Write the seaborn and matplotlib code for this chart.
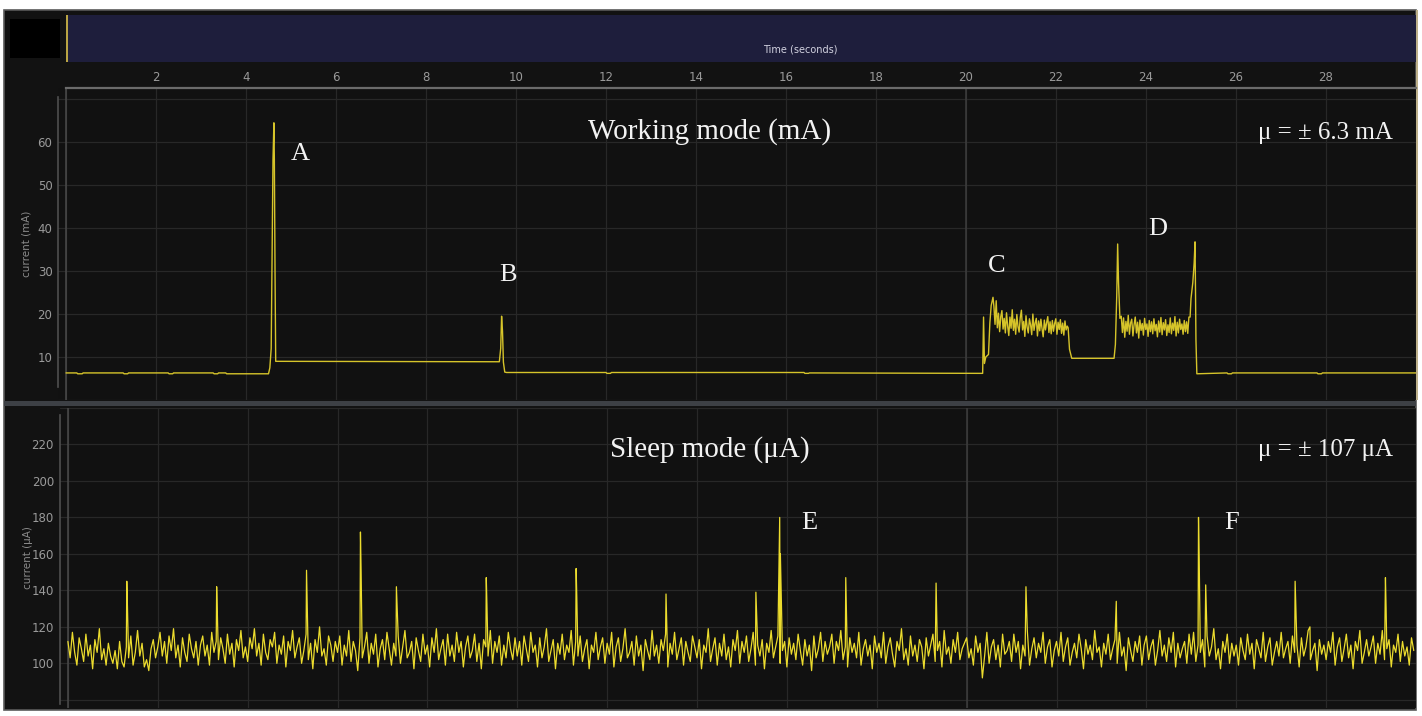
import numpy as np
import pandas as pd
import matplotlib
matplotlib.use("Agg")
import matplotlib.pyplot as plt
from matplotlib.patches import Rectangle
import seaborn as sns

# ---- working mode trace (mA): breakpoints + two noisy plateaus ----
pre_t  = [0.00, 0.24, 0.26, 0.36, 0.38, 1.27, 1.29, 1.37, 1.39, 2.27, 2.29, 2.37, 2.39,
          3.27, 3.29, 3.37, 3.39, 3.55, 3.57, 4.50, 4.53, 4.56, 4.58, 4.60, 4.62, 4.63,
          4.645, 4.66, 9.63, 9.66, 9.68, 9.70, 9.72, 9.75, 9.79, 12.00, 12.02, 12.10,
          12.12, 16.40, 16.42, 16.50, 16.52, 20.37, 20.39, 20.41, 20.44, 20.50, 20.53,
          20.56, 20.60]
pre_ma = [6.3, 6.3, 6.1, 6.1, 6.3, 6.3, 6.1, 6.1, 6.3, 6.3, 6.1, 6.1, 6.3,
          6.3, 6.1, 6.1, 6.3, 6.3, 6.1, 6.1, 7.5, 12.0, 35.0, 56.0, 64.5, 56.0,
          30.0, 9.0, 8.9, 12.0, 19.5, 16.0, 8.8, 6.5, 6.4, 6.4, 6.2, 6.2,
          6.4, 6.4, 6.2, 6.2, 6.3, 6.2, 19.3, 8.5, 10.0, 10.6, 17.9,
          22.0, 23.9]

c_start, c_end = 20.62, 22.25
c_noise = [21.8, 17.6, 23.1, 16.8, 20.2, 15.9, 19.4, 20.8, 16.5, 19.0, 15.6, 20.3, 17.2,
           15.0, 19.3, 16.7, 21.0, 16.2, 18.8, 15.3, 19.9, 17.1, 15.8, 19.2, 20.9, 16.3,
           18.3, 14.8, 19.6, 16.9, 15.6, 18.9, 17.5, 15.2, 20.0, 16.2, 17.9, 19.0, 14.9,
           18.4, 16.1, 18.8, 16.6, 14.7, 18.6, 16.3, 18.0, 19.4, 15.7, 18.2, 15.4, 18.5,
           16.0, 17.8, 18.9, 15.3, 18.1, 16.4, 18.7, 15.5, 17.9, 15.1, 18.4, 16.3, 17.2]

mid_t  = [22.27, 22.30, 22.35, 23.29, 23.32, 23.35, 23.37, 23.39, 23.42]
mid_ma = [16.8, 11.8, 9.7, 9.7, 12.9, 24.3, 36.3, 27.3, 19.0]

d_start, d_end = 23.45, 24.98
d_noise = [19.5, 15.7, 19.1, 14.6, 18.3, 16.0, 19.7, 15.3, 17.9, 18.8, 14.9, 17.5, 19.3,
           15.6, 18.1, 14.4, 18.6, 16.2, 17.8, 15.1, 19.0, 16.4, 17.7, 14.8, 18.5, 15.9,
           18.2, 15.4, 18.9, 16.1, 17.6, 14.7, 18.4, 15.8, 19.2, 15.2, 18.0, 16.3, 18.7,
           15.0, 17.5, 15.7, 19.1, 15.4, 17.9, 16.2, 19.4, 14.9, 18.1, 15.6, 18.8, 16.4,
           17.7, 15.3, 18.5, 15.9, 18.2, 15.5, 19.3, 19.3]

post_t  = [25.00, 25.04, 25.07, 25.09, 25.11, 25.13, 25.80, 25.82, 25.90, 25.92, 27.80,
           27.82, 27.90, 27.92, 30.00]
post_ma = [23.6, 27.3, 31.9, 36.8, 14.0, 6.1, 6.3, 6.1, 6.1, 6.3, 6.3,
           6.1, 6.1, 6.3, 6.3]

peak_letters = ["A", "B", "C", "D"]
peak_t = [5.2, 9.82, 20.69, 24.27]
peak_ma = [57.3, 29.1, 31.1, 39.8]

# ---- sleep mode trace (uA): samples every 0.05 s + spikes ----
sleep_dt = 0.05
sleep_noise = [
    112,103,117,106,99,114,108,101,116,104,110,97,113,106,119,102,108,99,111,104,
    100,107,97,112,101,98,109,103,115,99,106,118,104,111,98,102,96,108,113,103,
    109,117,104,112,100,115,107,119,103,110,98,114,106,101,116,108,103,112,99,110,
    115,104,110,99,117,106,112,102,114,108,100,116,105,111,98,113,107,118,103,109,
    101,114,108,119,104,111,99,116,106,102,113,109,117,100,110,105,115,98,112,107,
    118,103,109,114,100,107,116,102,111,97,113,106,120,104,108,99,115,110,101,112,
    106,115,99,110,104,118,101,112,107,96,114,103,109,117,100,111,105,116,98,108,
    113,102,117,108,99,111,104,115,100,109,118,103,106,112,97,114,107,101,116,105,
    110,98,114,106,119,102,108,113,99,116,104,110,101,117,106,112,98,109,115,103,
    107,116,101,111,97,113,109,104,118,100,112,106,115,99,110,103,117,108,102,114,
    104,112,99,115,108,101,117,106,110,98,114,103,109,119,101,107,113,97,111,105,
    116,102,110,106,118,99,112,104,115,101,108,113,97,110,106,117,102,109,114,100,
    111,105,117,98,109,114,101,108,119,103,106,112,99,115,104,110,96,113,107,102,
    118,104,110,100,113,107,116,98,111,105,117,102,108,114,99,112,106,101,115,109,
    103,113,97,110,106,119,101,108,114,99,111,104,116,102,109,98,113,107,118,100,
    112,106,115,101,108,117,99,110,104,113,97,111,106,118,103,109,115,100,107,112,
    98,114,105,111,102,116,107,99,113,104,110,96,115,103,108,117,101,112,105,109,
    116,100,112,107,118,102,109,98,114,106,111,103,117,99,108,113,104,110,97,115,
    106,111,103,117,100,109,114,105,98,112,107,119,102,108,99,115,104,110,101,113,
    109,97,114,104,110,116,101,107,112,98,118,105,109,100,113,106,117,102,108,111,
    114,103,108,99,115,106,111,92,104,117,100,109,113,102,110,98,116,105,107,112,
    101,116,106,112,97,110,104,118,99,108,114,103,111,106,117,100,109,113,98,107,
    112,104,117,101,109,114,99,106,111,103,116,108,97,113,105,110,102,118,106,109,
    98,111,105,116,102,108,113,100,117,104,109,96,114,107,101,112,106,115,99,110,
    115,102,109,113,99,107,118,104,110,101,114,106,117,98,111,103,108,112,100,116,
    105,117,101,110,106,113,98,115,104,109,119,102,108,97,112,106,116,100,111,104,
    110,99,114,107,102,116,105,111,97,113,108,103,117,101,109,114,99,106,112,104,
    117,103,108,112,100,115,106,110,98,114,104,109,118,102,107,111,96,113,105,110,
    102,112,106,117,99,109,114,101,108,116,103,110,97,112,107,118,100,106,113,104,
    109,115,100,111,105,118,102,108,113,98,110,106,116,101,112,104,109,99,114,107,
]
spike_t  = [1.31, 1.325, 3.31, 3.325, 5.31, 5.325, 6.51, 6.525, 7.31, 9.31, 9.325,
            11.31, 11.325, 13.31, 15.31, 15.84, 15.855, 17.31, 19.32, 21.32, 23.33,
            25.16, 25.175, 25.32, 27.31, 27.64, 29.32, 29.335]
spike_ua = [145, 131, 142, 128, 151, 133, 172, 150, 142, 147, 132,
            152, 136, 138, 139, 180, 160, 147, 144, 142, 134,
            180, 158, 143, 145, 120, 147, 130]

sleep_letters = ["E", "F"]
sleep_letter_t = [16.5, 25.9]
sleep_letter_ua = [176.9, 176.9]

# ---- build tables ----
work_df = pd.DataFrame({
    "t": np.concatenate([pre_t, np.linspace(c_start, c_end, len(c_noise)), mid_t,
                         np.linspace(d_start, d_end, len(d_noise)), post_t]),
    "ma": np.concatenate([pre_ma, c_noise, mid_ma, d_noise, post_ma]),
})
sleep_df = pd.concat([
    pd.DataFrame({"t": np.arange(len(sleep_noise)) * sleep_dt, "ua": sleep_noise}),
    pd.DataFrame({"t": spike_t, "ua": spike_ua}),
]).sort_values("t")

# ---- style ----
sns.set_theme(style="dark", rc={
    "axes.facecolor": "#111111",
    "figure.facecolor": "white",
    "grid.color": "#282828",
    "grid.linewidth": 0.9,
    "xtick.color": "#9a9a9a",
    "ytick.color": "#9a9a9a",
})
plt.rcParams["font.family"] = ["DejaVu Sans"]
SERIF = ["Liberation Serif", "DejaVu Serif"]
W, H = 1422, 716

def box(x0, y0, x1, y1):
    return [x0 / W, 1 - y1 / H, (x1 - x0) / W, (y1 - y0) / H]

def frect(x0, y0, x1, y1, color, z, **kw):
    fig.patches.append(Rectangle((x0 / W, 1 - y1 / H), (x1 - x0) / W, (y1 - y0) / H,
                                 transform=fig.transFigure, facecolor=color, zorder=z, **kw))

fig = plt.figure(figsize=(W / 100, H / 100), dpi=100)

# dark frame, time bar and panel divider (kept below the axes)
frect(4, 10, 1416, 710, "#121212", -3, edgecolor="#5a5a5a", lw=1.2)
frect(66, 15, 1416, 62, "#1e1e3c", -2, edgecolor="none")
frect(10, 19, 60, 58, "black", -2, edgecolor="none")
frect(66, 15, 67.5, 62, "#b9a444", -1, edgecolor="none")
frect(4, 401, 1416, 406, "#3d4045", -1, edgecolor="none")
frect(1416, 10, 1418, 400, "#bdb08a", -1, edgecolor="none")
fig.text(800 / W, 1 - 49 / H, "Time (seconds)", ha="center", va="center",
         fontsize=7, color="#d2d2e0")

ax1 = fig.add_axes(box(58, 88, 1416, 400))
ax2 = fig.add_axes(box(59.5, 408, 1416, 708))

sns.lineplot(data=work_df, x="t", y="ma", ax=ax1, color="#d6c42a", lw=1.0,
             estimator=None, sort=False)
sns.lineplot(data=sleep_df, x="t", y="ua", ax=ax2, color="#ecdc2e", lw=0.9,
             estimator=None, sort=False)

xt = np.arange(0, 31, 2)
ax1.set_xlim(-8 / 45, 1350 / 45)
ax1.set_ylim(1.5, 72.6)
ax1.set_xticks(xt)
ax1.set_xticklabels([str(v) if 0 < v < 30 else "" for v in xt])
ax1.xaxis.tick_top()
ax1.set_yticks(np.arange(0, 71, 10))
ax1.set_yticklabels([str(v) if 0 < v < 70 else "" for v in range(0, 71, 10)])

ax2.set_xlim(-8.5 / 45.4, 1348 / 45.4)
ax2.set_ylim(75.5, 239.9)
ax2.set_xticks(xt)
ax2.set_xticklabels([])
ax2.set_yticks(np.arange(80, 241, 20))
ax2.set_yticklabels([str(v) if 100 <= v <= 220 else "" for v in range(80, 241, 20)])

for ax, lab in [(ax1, "current (mA)"), (ax2, "current (\u00b5A)")]:
    ax.grid(True)
    ax.tick_params(axis="both", length=0, labelsize=8.5, pad=4)
    ax.set_xlabel("")
    ax.set_ylabel(lab, fontsize=7.5, color="#8a8a8a")
    ax.yaxis.set_label_coords(-0.0195, 0.5)
    for s in ax.spines.values():
        s.set_visible(False)
    ax.spines["left"].set_visible(True)
    ax.spines["left"].set_color("#4f4f4f")
    ax.spines["left"].set_linewidth(1.2)
    ax.axvline(0, color="#4a4a4a", lw=1.1, zorder=1)
    ax.axvline(20, color="#3e3e3e", lw=1.1, zorder=1)

ax1.tick_params(axis="x", pad=3)
ax1.spines["left"].set_bounds(3.1, 70.5)
ax1.spines["top"].set_visible(True)
ax1.spines["top"].set_bounds(0, 30)
ax1.spines["top"].set_color("#6b6b6b")
ax1.spines["top"].set_linewidth(1.6)
ax2.spines["left"].set_bounds(77.5, 236)

# annotations
ax1.text(0.480, 0.859, "Working mode (mA)", transform=ax1.transAxes, ha="center",
         va="center", fontsize=21, color="#f2f2f2", family=SERIF)
ax1.text(0.983, 0.856, "\u03bc = \u00b1 6.3 mA", transform=ax1.transAxes, ha="right",
         va="center", fontsize=18, color="#f2f2f2", family=SERIF)
for s, x, y in zip(peak_letters, peak_t, peak_ma):
    ax1.text(x, y, s, ha="center", va="center", fontsize=19, color="#f2f2f2", family=SERIF)

ax2.text(0.4795, 0.863, "Sleep mode (\u03bcA)", transform=ax2.transAxes, ha="center",
         va="center", fontsize=21, color="#f2f2f2", family=SERIF)
ax2.text(0.983, 0.86, "\u03bc = \u00b1 107 \u03bcA", transform=ax2.transAxes, ha="right",
         va="center", fontsize=18, color="#f2f2f2", family=SERIF)
for s, x, y in zip(sleep_letters, sleep_letter_t, sleep_letter_ua):
    ax2.text(x, y, s, ha="center", va="center", fontsize=19, color="#f2f2f2", family=SERIF)

fig.savefig("out.png", dpi=100)
